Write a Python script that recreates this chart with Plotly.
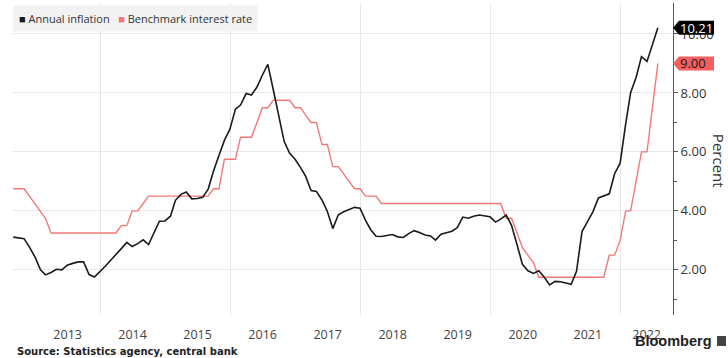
import pandas as pd
import plotly.graph_objects as go

# ---- data (monthly, month-end, Aug 2012 .. Jul 2022) ----
start_month = "2012-08-31"
inflation = [
    3.11, 3.08, 3.06, 2.77, 2.44,
    2.00, 1.83, 1.91, 2.02, 2.00, 2.16, 2.22, 2.27, 2.27, 1.84, 1.76, 1.94,
    2.13, 2.32, 2.51, 2.72, 2.93, 2.79, 2.89, 3.02, 2.86, 3.29, 3.65, 3.66,
    3.82, 4.36, 4.56, 4.64, 4.41, 4.42, 4.46, 4.74, 5.35, 5.89, 6.39, 6.77,
    7.45, 7.59, 7.98, 7.93, 8.20, 8.60, 8.97, 8.10, 7.27, 6.35, 5.96, 5.75,
    5.47, 5.18, 4.69, 4.66, 4.37, 3.99, 3.40, 3.87, 3.97, 4.05, 4.12, 4.09,
    3.68, 3.37, 3.14, 3.13, 3.16, 3.20, 3.12, 3.10, 3.23, 3.33, 3.27, 3.18,
    3.15, 3.01, 3.21, 3.25, 3.31, 3.43, 3.79, 3.75, 3.82, 3.86, 3.84, 3.80,
    3.62, 3.72, 3.86, 3.51, 2.85, 2.19, 1.97, 1.88, 1.97, 1.75, 1.49, 1.61,
    1.60, 1.56, 1.51, 1.95, 3.30, 3.63, 3.97, 4.44, 4.51, 4.58, 5.26, 5.62,
    6.94, 8.01, 8.53, 9.23, 9.07, 9.67, 10.21,
]
benchmark_rate = [
    4.75, 4.75, 4.75, 4.50, 4.25,
    4.00, 3.75, 3.25, 3.25, 3.25, 3.25, 3.25, 3.25, 3.25, 3.25, 3.25, 3.25,
    3.25, 3.25, 3.25, 3.50, 3.50, 4.00, 4.00, 4.25, 4.50, 4.50, 4.50, 4.50,
    4.50, 4.50, 4.50, 4.50, 4.50, 4.50, 4.50, 4.50, 4.75, 4.75, 5.75, 5.75,
    5.75, 6.50, 6.50, 6.50, 7.00, 7.50, 7.50, 7.75, 7.75, 7.75, 7.75, 7.50,
    7.50, 7.25, 7.00, 7.00, 6.25, 6.25, 5.50, 5.50, 5.25, 5.00, 4.75, 4.75,
    4.50, 4.50, 4.50, 4.25, 4.25, 4.25, 4.25, 4.25, 4.25, 4.25, 4.25, 4.25,
    4.25, 4.25, 4.25, 4.25, 4.25, 4.25, 4.25, 4.25, 4.25, 4.25, 4.25, 4.25,
    4.25, 4.25, 3.75, 3.75, 3.25, 2.75, 2.50, 2.25, 1.75, 1.75, 1.75, 1.75,
    1.75, 1.75, 1.75, 1.75, 1.75, 1.75, 1.75, 1.75, 1.75, 2.50, 2.50, 3.00,
    4.00, 4.00, 5.00, 6.00, 6.00, 7.50, 9.00,
]
year_labels = [2013, 2014, 2015, 2016, 2017, 2018, 2019, 2020, 2021, 2022]
grid_years = [2014, 2016, 2018, 2020, 2022]
y_ticks = [2, 4, 6, 8, 10]
y_minor_ticks = [1, 3, 5, 7, 9]
x_range = ["2012-08-24", "2022-10-24"]
y_range = [0.47, 11.05]

series_names = ["Annual inflation", "Benchmark interest rate"]
INFL_COLOR = "#1a1a1a"
RATE_COLOR = "#f27878"
BADGE_RED = "#f65f5f"
FONT = "Open Sans"

dates = pd.date_range(start_month, periods=len(inflation), freq=pd.offsets.MonthEnd())

# year label positions: mid-year, last one centred in the visible part of the year
rng_end = pd.Timestamp(x_range[1])
tick_pos = []
for y in year_labels:
    a = pd.Timestamp(f"{y}-01-01")
    b = min(pd.Timestamp(f"{y + 1}-01-01"), rng_end)
    tick_pos.append(a + (b - a) / 2)

fig = go.Figure()
fig.add_trace(go.Scatter(x=dates, y=benchmark_rate, mode="lines", name=series_names[1],
                         line=dict(color=RATE_COLOR, width=1.4), showlegend=False))
fig.add_trace(go.Scatter(x=dates, y=inflation, mode="lines", name=series_names[0],
                         line=dict(color=INFL_COLOR, width=1.6), showlegend=False))

fig.update_layout(
    width=728, height=358,
    margin=dict(l=12, r=55, t=3, b=43),
    paper_bgcolor="white", plot_bgcolor="white",
    font=dict(family=FONT, color="#333"),
    showlegend=False,
    xaxis=dict(
        range=x_range, type="date",
        tickmode="array", tickvals=tick_pos, ticktext=[str(y) for y in year_labels],
        showgrid=False, ticks="", ticklabelstandoff=10,
        tickfont=dict(size=12.5, color="#444", family=FONT),
        showline=False, zeroline=False,
        minor=dict(tickmode="array", tickvals=[f"{y}-01-01" for y in grid_years],
                   showgrid=True, gridcolor="#e8e8e8", gridwidth=1, ticks=""),
    ),
    yaxis=dict(
        range=y_range, side="right",
        tickmode="array", tickvals=y_ticks, tickformat=".2f",
        showgrid=True, gridcolor="#e8e8e8", gridwidth=1, zeroline=False,
        showline=True, linecolor="#555", linewidth=1,
        ticks="outside", ticklen=4, tickcolor="#555", tickwidth=1,
        tickfont=dict(size=13, color="#333", family=FONT),
        minor=dict(tickmode="array", tickvals=y_minor_ticks, ticks="outside",
                   ticklen=3, tickcolor="#555", showgrid=False),
    ),
)

# value badges at the right axis for the last observation of each series
last_vals = [(inflation[-1], "black", "white"), (benchmark_rate[-1], BADGE_RED, "#1a1a1a")]
for val, bg, fg in last_vals:
    fig.add_shape(type="path", xref="paper", yref="y", xsizemode="pixel", ysizemode="pixel",
                  xanchor=1, yanchor=val, path="M0,0 L6,-7 L41,-7 L41,7 L6,7 Z",
                  fillcolor=bg, line=dict(width=0), layer="above")
    fig.add_annotation(x=1, xref="paper", y=val, yref="y", xanchor="left", yanchor="middle",
                       xshift=5, text=f"{val:.2f}", showarrow=False,
                       font=dict(size=13, color=fg, family=FONT))

# legend box
legend_text = (f"<span style='color:{INFL_COLOR}'>■</span> {series_names[0]}&nbsp;&nbsp; "
               f"<span style='color:{RATE_COLOR}'>■</span> {series_names[1]}")
fig.add_annotation(x=0, xref="paper", y=1, yref="paper", xanchor="left", yanchor="top",
                   xshift=1, yshift=-2, text=legend_text, showarrow=False, align="left",
                   bgcolor="#f2f2f2", borderpad=5, font=dict(size=11, color="#333", family=FONT))

# axis title
fig.add_annotation(x=1, xref="paper", y=0.494, yref="paper", xshift=46, text="Percent",
                   textangle=90, showarrow=False, xanchor="center", yanchor="middle",
                   font=dict(size=15, color="#333", family=FONT))

# source and brand
fig.add_annotation(x=0, xref="paper", y=0, yref="paper", xanchor="left", yanchor="middle",
                   xshift=3, yshift=-36, text="<b>Source: Statistics agency, central bank</b>",
                   showarrow=False, font=dict(size=10, color="#222", family="DejaVu Sans"))
fig.add_annotation(x=1, xref="paper", y=0, yref="paper", xanchor="right", yanchor="middle",
                   xshift=41, yshift=-26, text="<b>Bloomberg</b>",
                   showarrow=False, font=dict(size=14.5, color="#222", family="Liberation Sans"))
fig.add_shape(type="rect", xref="paper", yref="paper", xsizemode="pixel", ysizemode="pixel",
              xanchor=1, yanchor=0, x0=44, x1=53, y0=-31, y1=-21,
              fillcolor="#444", line=dict(width=0))

fig.write_html("out.html", config={"displayModeBar": False},
               post_script="document.body.style.margin='0';document.body.style.overflow='hidden';")
